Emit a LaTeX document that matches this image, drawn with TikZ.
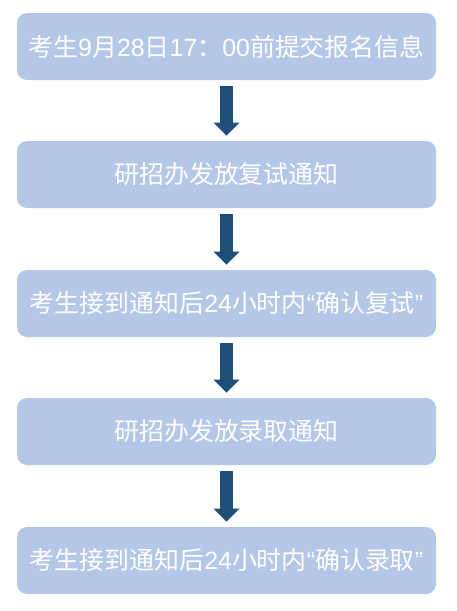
\documentclass[tikz,border=0pt]{standalone}
\usepackage{fontspec}
\setmainfont{Noto Sans CJK SC}
\newfontfamily\latinfont{Liberation Sans}
\newcommand{\lt}[1]{{\latinfont #1}}
\usetikzlibrary{positioning,arrows.meta}
\definecolor{boxblue}{HTML}{B4C7E7}
\definecolor{arrowblue}{HTML}{1F4E79}
\tikzset{
  stepbox/.style={fill=boxblue, text=white, rounded corners=7.5pt,
    minimum width=314.25pt, minimum height=50.25pt, inner sep=0pt,
    font=\fontsize{18.7}{22}\selectfont},
  flowarrow/.style={draw=arrowblue, line width=9.75pt,
    -{Triangle[width=19.5pt,length=9.75pt,line width=0pt]},
    shorten <=4.5pt, shorten >=3.75pt}
}
\begin{document}
\begin{tikzpicture}[x=0.75pt,y=-0.75pt]
\useasboundingbox (0,0) rectangle (457,611);

\node[stepbox] (s1) at (226.5,46.5) {考生\lt{9}月\lt{28}日\lt{17}：\lt{00}前提交报名信息};
\node[stepbox] (s2) at (226.5,174.5) {研招办发放复试通知};
\node[stepbox] (s3) at (226.5,303.5) {考生接到通知后\lt{24}小时内\lt{“}确认复试\lt{”}};
\node[stepbox] (s4) at (226.5,431.5) {研招办发放录取通知};
\node[stepbox] (s5) at (226.5,560.5) {考生接到通知后\lt{24}小时内\lt{“}确认录取\lt{”}};

\draw[flowarrow] (s1) -- (s2);
\draw[flowarrow] (s2) -- (s3);
\draw[flowarrow] (s3) -- (s4);
\draw[flowarrow] (s4) -- (s5);
\end{tikzpicture}
\end{document}
